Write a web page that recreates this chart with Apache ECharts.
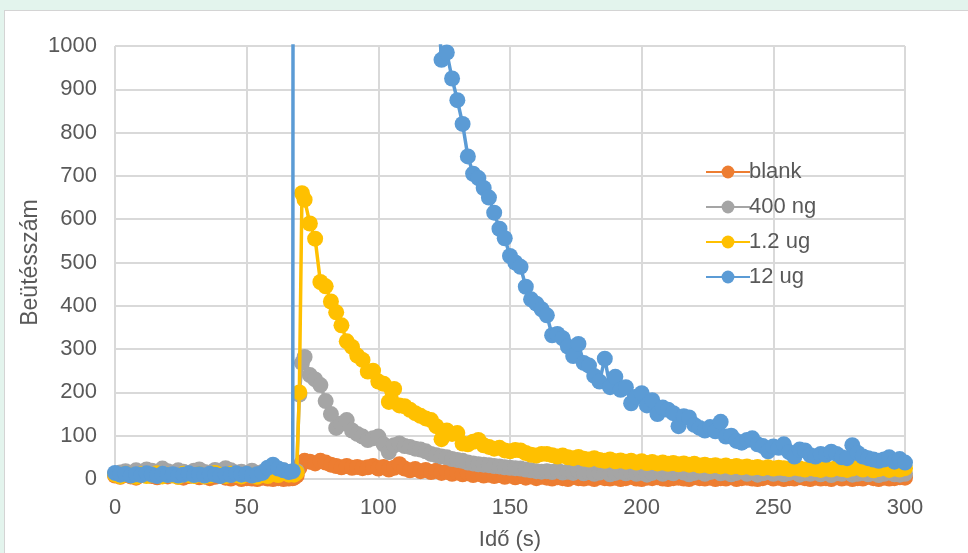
<!DOCTYPE html>
<html>
<head>
<meta charset="utf-8">
<script src="https://cdn.jsdelivr.net/npm/echarts@6/dist/echarts.min.js"></script>
<style>
  html, body { margin: 0; padding: 0; width: 968px; height: 553px; overflow: hidden; background: #e3f4ed; }
  #frame { position: absolute; left: 4px; top: 10px; width: 980px; height: 560px; background: #ffffff; border-left: 1px solid #d4d4d4; border-top: 1px solid #d4d4d4; }
  #chart { position: absolute; left: 0; top: 0; width: 968px; height: 553px; }
</style>
</head>
<body>
<div id="frame"></div>
<div id="chart"></div>
<script>
// time (s)
const times = [
  0,2,4,6,8,10,12,14,16,18,20,22,24,26,28,30,32,34,36,38,40,42,44,46,48,50,52,54,56,58,60,62,64,66,
  67.5,68,69,70,71,72,
  74,76,78,80,82,84,86,88,90,92,94,96,98,100,102,104,106,108,110,112,114,116,118,120,122,124,126,128,130,132,134,136,138,140,142,144,146,148,150,152,154,156,158,160,162,
  164,166,168,170,172,174,176,178,180,182,184,186,188,190,192,194,196,198,200,202,204,206,208,210,212,214,216,218,220,222,224,226,228,230,232,234,236,238,240,242,244,246,248,250,252,254,256,258,260,262,264,266,268,270,272,274,276,278,280,282,284,286,288,290,292,294,296,298,300
];
const seriesNames = ['blank', '400 ng', '1.2 ug', '12 ug'];
const blank = [
  8,5,10,6,3,9,12,7,4,8, 6,10,5,3,7,9,4,6,2,5, 8,3,1,4,0,2,1,0,3,1, 0,2,0,1,
  2,3,8,25,38,42,
  40,36,42,38,33,30,27,30,26,28, 25,27,30,24,28,22,26,34,24,20, 23,18,21,16,19,14,17,12,15,11, 13,9,12,8,10,7,9,5,8,4, 7,3,6,2,5,
  3,1,4,2,0,5,2,1,3,0, 4,2,1,3,0,2,5,1,0,3, 2,4,1,0,2,3,1,0,4,2, 1,3,0,2,1,4,0,2,3,1, 0,2,5,1,3,0,2,1,4,2, 0,3,1,2,0,4,1,3,0,2, 1,5,2,0,3,1,2,4,3
];
const ng400 = [
  12,15,18,14,20,17,22,19,16,24, 18,15,20,17,13,19,22,16,14,21, 18,25,20,15,17,12,19,14,16,11, 18,13,20,16,
  14,12,18,195,268,282,
  240,230,217,180,150,118,128,136,112,104, 98,90,94,98,80,62,78,82,76,74, 70,68,64,58,55,52,50,46,44,42, 38,36,34,33,32,30,29,27,26,25, 24,22,20,18,17,
  18,16,20,15,17,14,19,13,16,12, 15,18,11,14,17,13,16,12,15,10, 14,18,12,16,13,20,15,11,14,17, 12,16,19,13,15,11,14,18,12,16, 10,13,17,12,15,11,14,16,10,13, 12,15,11,14,9,13,12,16,10,12, 14,11,13,9,12,15,11,10,12
];
const ug12 = [
  10,6,12,8,5,11,7,9,13,6, 10,8,5,12,9,7,11,6,8,14, 10,7,12,9,6,11,8,5,10,7, 12,9,14,10,
  12,10,15,200,660,645,
  590,555,455,445,410,385,355,318,305,285, 275,248,250,225,220,178,208,170,168,160, 152,146,140,136,122,92,112,104,106,82, 80,86,90,78,74,70,72,66,64,67, 66,60,56,54,58,
  58,55,52,54,50,48,51,47,45,48, 44,42,45,41,43,40,42,38,41,37, 39,36,38,35,37,34,36,33,35,31, 33,30,32,29,31,28,30,27,29,26, 28,25,27,24,26,25,23,26,24,22, 25,23,21,24,22,26,23,21,24,27, 22,25,20,23,26,21,24,22,25
];
const ug120 = [
  14,10,12,8,11,9,13,10,7,12, 9,11,8,10,13,9,11,8,12,10, 7,11,9,13,10,12,8,11,14,26, 33,24,20,16,
  18,5200,5000,4850,4700,4550,
  4300,4050,3800,3580,3370,3170,2980,2800,2640,2480, 2340,2200,2070,1950,1840,1740,1640,1550,1470,1390, 1320,1260,1200,1170,1150,
  968,985,925,875,820,745,705,695,672,650, 615,578,556,515,500,490,444,415,405,392, 378,332,335,325,306,284,312,268,262,238,
  225,278,212,236,206,212,175,190,198,170, 182,150,165,160,152,122,145,142,125,118, 112,120,110,132,98,100,88,84,90,94,
  80,76,64,75,72,80,62,52,68,66, 55,52,58,56,63,58,50,48,78,60, 52,48,45,42,45,50,40,46,38
];
const xTicks = { min: 0, max: 300, step: 50 };
const yTicks = { min: 0, max: 1000, step: 100 };
const colors = ['#ED7D31', '#A5A5A5', '#FFC000', '#5B9BD5'];

const allValues = [blank, ng400, ug12, ug120];
allValues.forEach((a, i) => { if (a.length !== times.length) throw new Error('length mismatch ' + seriesNames[i] + ' ' + a.length + ' vs ' + times.length); });

const FONT = '"Liberation Sans", Arial, sans-serif';
const TXT = '#595959';
const GRID = '#d9d9d9';

const chart = echarts.init(document.getElementById('chart'), null, { renderer: 'canvas' });
chart.setOption({
  animation: false,
  backgroundColor: 'transparent',
  textStyle: { fontFamily: FONT },
  grid: { left: 115, right: 63, top: 46, bottom: 74, containLabel: false, outerBoundsMode: 'none' },
  legend: {
    orient: 'vertical', left: 700, top: 156,
    itemWidth: 44, itemHeight: 16, itemGap: 13,
    textStyle: { fontSize: 22, color: TXT, fontFamily: FONT, padding: [0, 0, 0, -6] },
    data: seriesNames
  },
  xAxis: {
    type: 'value', min: xTicks.min, max: xTicks.max, interval: xTicks.step,
    name: 'Idő (s)', nameLocation: 'middle', nameGap: 50, nameMoveOverlap: false,
    nameTextStyle: { fontSize: 22, color: TXT, fontFamily: FONT },
    axisLine: { show: true, lineStyle: { color: GRID, width: 2 } },
    axisTick: { show: false },
    axisLabel: { fontSize: 22, color: TXT, margin: 18, fontFamily: FONT },
    splitLine: { show: true, lineStyle: { color: GRID, width: 2 } }
  },
  yAxis: {
    type: 'value', min: yTicks.min, max: yTicks.max, interval: yTicks.step,
    name: 'Beütésszám', nameLocation: 'middle', nameGap: 73, nameRotate: 90, nameMoveOverlap: false,
    nameTextStyle: { fontSize: 23, color: TXT, fontFamily: FONT },
    axisLine: { show: false },
    axisTick: { show: false },
    axisLabel: { fontSize: 22, color: TXT, margin: 18, fontFamily: FONT, formatter: v => String(v) },
    splitLine: { show: true, lineStyle: { color: GRID, width: 2 } }
  },
  series: allValues.map((vals, i) => ({
    name: seriesNames[i],
    type: 'line',
    data: times.map((t, j) => [t, vals[j]]),
    symbol: 'circle',
    symbolSize: 16,
    showSymbol: true,
    showAllSymbol: true,
    clip: true,
    z: 2 + i,
    color: colors[i],
    lineStyle: { color: colors[i], width: 3.5 },
    itemStyle: { color: colors[i] }
  }))
});
</script>
</body>
</html>
